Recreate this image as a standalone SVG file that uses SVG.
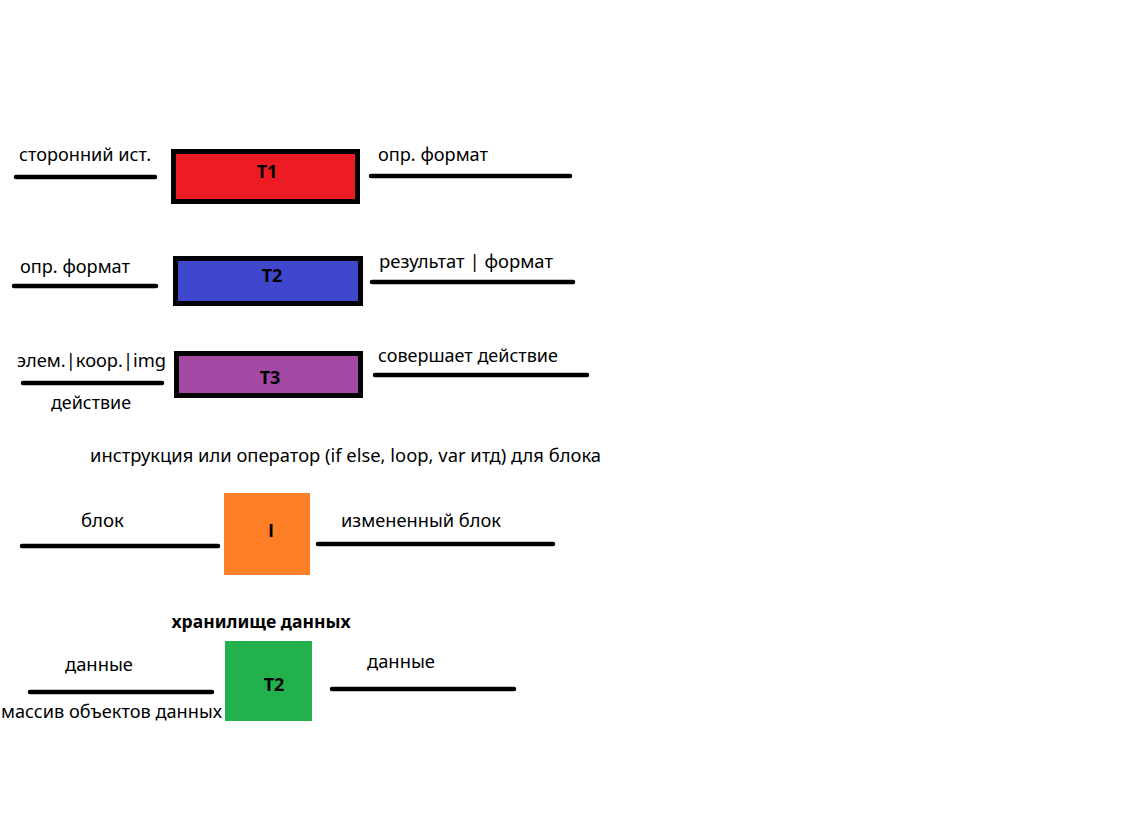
<svg xmlns="http://www.w3.org/2000/svg" width="1122" height="827" viewBox="0 0 1122 827">
  <style>
    .lbl { font-family: "Noto Sans", "Open Sans", sans-serif; font-size: 18px; fill: #000; }
    .ttl { font-family: "Noto Sans", "Open Sans", sans-serif; font-size: 18px; font-weight: bold; fill: #000; text-anchor: middle; }
    .bar { font-family: "Open Sans", "Liberation Sans", sans-serif; }
    .box { stroke: #000; stroke-width: 5; }
    .wire { stroke: #000; stroke-width: 4.5; stroke-linecap: round; fill: none; }
  </style>
  <rect width="1122" height="827" fill="#fff"/>

  <!-- connectors -->
  <g id="connectors">
    <line class="wire" x1="16" y1="177" x2="155" y2="177"/>
    <line class="wire" x1="371" y1="176" x2="570" y2="176"/>
    <line class="wire" x1="14" y1="286" x2="156" y2="286"/>
    <line class="wire" x1="372" y1="282" x2="573" y2="282"/>
    <line class="wire" x1="23" y1="383" x2="162" y2="383"/>
    <line class="wire" x1="375" y1="375" x2="587" y2="375"/>
    <line class="wire" x1="22" y1="546" x2="218" y2="546"/>
    <line class="wire" x1="318" y1="544" x2="553" y2="544"/>
    <line class="wire" x1="30" y1="692" x2="212" y2="692"/>
    <line class="wire" x1="332" y1="689" x2="514" y2="689"/>
  </g>

  <!-- T1 -->
  <g id="t1">
    <rect class="box" x="173.5" y="151.5" width="184" height="50" fill="#ed1c24"/>
    <text class="ttl" x="267" y="178">T1</text>
    <text class="lbl" x="19" y="161" textLength="132" lengthAdjust="spacingAndGlyphs">сторонний ист.</text>
    <text class="lbl" x="378" y="161" textLength="110" lengthAdjust="spacingAndGlyphs">опр. формат</text>
  </g>

  <!-- T2 -->
  <g id="t2">
    <rect class="box" x="175.5" y="258.5" width="185" height="45" fill="#3f48cc"/>
    <text class="ttl" x="272" y="282">T2</text>
    <text class="lbl" x="20" y="273" textLength="110" lengthAdjust="spacingAndGlyphs">опр. формат</text>
    <text class="lbl" x="379" y="268" textLength="174" lengthAdjust="spacingAndGlyphs">результат | формат</text>
  </g>

  <!-- T3 -->
  <g id="t3">
    <rect class="box" x="176.5" y="353.5" width="184" height="42" fill="#a349a4"/>
    <text class="ttl" x="270" y="384">T3</text>
    <text class="lbl" x="17" y="367" textLength="149" lengthAdjust="spacingAndGlyphs">элем.|коор.|img</text>
    <text class="lbl" x="51" y="409" textLength="80" lengthAdjust="spacingAndGlyphs">действие</text>
    <text class="lbl" x="378" y="362" textLength="180" lengthAdjust="spacingAndGlyphs">совершает действие</text>
  </g>

  <!-- instruction block -->
  <g id="instr">
    <text class="lbl" x="90" y="462" textLength="511" lengthAdjust="spacingAndGlyphs">инструкция или оператор (if else, loop, var итд) для блока</text>
    <rect x="224" y="493" width="86" height="82" fill="#ff7f27"/>
    <text class="ttl bar" x="271" y="537">I</text>
    <text class="lbl" x="81" y="527" textLength="43" lengthAdjust="spacingAndGlyphs">блок</text>
    <text class="lbl" x="341" y="527" textLength="160" lengthAdjust="spacingAndGlyphs">измененный блок</text>
  </g>

  <!-- data store -->
  <g id="store">
    <text class="ttl" x="261" y="628" textLength="179" lengthAdjust="spacingAndGlyphs">хранилище данных</text>
    <rect x="225" y="641" width="87" height="80" fill="#22b14c"/>
    <text class="ttl" x="274" y="691">T2</text>
    <text class="lbl" x="65" y="671" textLength="68" lengthAdjust="spacingAndGlyphs">данные</text>
    <text class="lbl" x="1" y="718" textLength="221" lengthAdjust="spacingAndGlyphs">массив объектов данных</text>
    <text class="lbl" x="367" y="668" textLength="68" lengthAdjust="spacingAndGlyphs">данные</text>
  </g>
</svg>
